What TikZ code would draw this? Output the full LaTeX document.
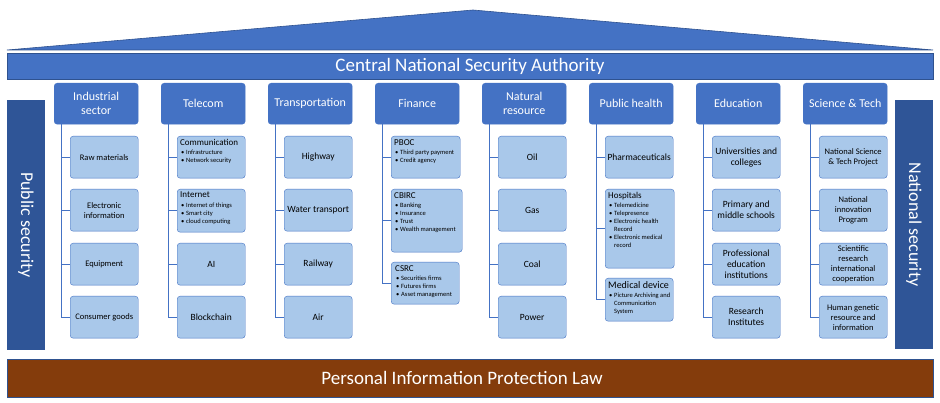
\documentclass[tikz,border=0pt]{standalone}
\usepackage{fontspec}
\setmainfont{Carlito}

\definecolor{roofblue}{HTML}{4472C4}
\definecolor{edgeblue}{HTML}{2F528F}
\definecolor{pillarblue}{HTML}{2F5597}
\definecolor{leafblue}{HTML}{A9C8EA}
\definecolor{lawbrown}{HTML}{843C0C}

\newcommand{\bitem}[1]{\par\hangindent=6pt\hangafter=1\noindent\hspace*{1pt}\makebox[5pt][l]{•}#1}
\newcommand{\boxtext}[4]{\parbox[c][#2pt][t]{#1pt}{\raggedright\fontsize{9}{10}\selectfont #3\par\vspace{1.5pt}\fontsize{6.5}{8}\selectfont #4}}

\tikzset{
	bar/.style={ draw=edgeblue, line width=0.6pt, text=white, inner sep=0pt },
	head/.style={ draw=roofblue, fill=roofblue, rounded corners=3pt, minimum width=84pt, minimum height=41pt,
		text=white, align=center, inner sep=1pt, anchor=north west, font=\fontsize{12}{14}\selectfont },
	leaf/.style={ draw=roofblue, fill=leafblue, rounded corners=3pt, minimum width=68pt, minimum height=42pt,
		align=center, inner sep=1pt, anchor=north west, font=\fontsize{8.5}{10}\selectfont },
	listleaf/.style={ leaf, inner sep=3pt, align=left },
	link/.style={ draw=roofblue, line width=0.8pt },
}

\begin{document}
\begin{tikzpicture}[ x=1pt, y=-1pt ]

	\useasboundingbox (0, 0) rectangle (940, 403);

	% roof and bars
	\draw[ fill=roofblue, draw=edgeblue, line width=0.6pt ] (7, 50) -- (473, 10) -- (933, 50) -- cycle;
	\node[ bar, fill=roofblue, minimum width=926pt, minimum height=26pt, font=\fontsize{19}{22}\selectfont ] (authority) at (470, 66) {Central National Security Authority};
	\node[ bar, fill=lawbrown, minimum width=926pt, minimum height=38pt, font=\fontsize{19}{22}\selectfont ] (law) at (470, 378) {Personal Information Protection Law\hspace*{16pt}};
	\node[ bar, fill=pillarblue, draw=none, minimum width=38pt, minimum height=250pt, font=\fontsize{18}{21}\selectfont ] (pubsec) at (26, 225) {\rotatebox{-90}{Public security}};
	\node[ bar, fill=pillarblue, draw=none, minimum width=38pt, minimum height=249pt, font=\fontsize{18}{21}\selectfont ] (natsec) at (914, 224.5) {\rotatebox{-90}{National security}};

	% headers
	\node[ head ] (ind) at (54, 83) {Industrial\\sector};
	\node[ head ] (tel) at (161, 83) {Telecom};
	\node[ head ] (tra) at (268, 83) {Transportation};
	\node[ head ] (fin) at (375, 83) {Finance};
	\node[ head ] (nat) at (482, 83) {Natural\\resource};
	\node[ head ] (pub) at (589, 83) {Public health};
	\node[ head ] (edu) at (696, 83) {Education};
	\node[ head ] (sci) at (803, 83) {Science \& Tech};

	% industrial sector
	\node[ leaf ] (ind1) at (70, 136) {Raw materials};
	\node[ leaf ] (ind2) at (70, 189) {Electronic\\information};
	\node[ leaf ] (ind3) at (70, 243) {Equipment};
	\node[ leaf ] (ind4) at (70, 296) {Consumer goods};

	% telecom
	\node[ listleaf ] (tel1) at (177, 136) {\boxtext{62}{36}{Communication}{\bitem{Infrastructure}\bitem{Network security}}};
	\node[ listleaf ] (tel2) at (177, 189) {\boxtext{62}{37}{Internet}{\bitem{Internet of things}\bitem{Smart city}\bitem{cloud computing}}};
	\node[ leaf, font=\fontsize{9.5}{11}\selectfont ] (tel3) at (177, 243) {AI};
	\node[ leaf, font=\fontsize{9.5}{11}\selectfont ] (tel4) at (177, 296) {Blockchain};

	% transportation
	\node[ leaf, font=\fontsize{9.5}{11}\selectfont ] (tra1) at (284, 136) {Highway};
	\node[ leaf, font=\fontsize{9.5}{11}\selectfont ] (tra2) at (284, 189) {Water transport};
	\node[ leaf, font=\fontsize{9.5}{11}\selectfont ] (tra3) at (284, 243) {Railway};
	\node[ leaf, font=\fontsize{9.5}{11}\selectfont ] (tra4) at (284, 296) {Air};

	% finance
	\node[ listleaf ] (fin1) at (391, 136) {\boxtext{63}{36}{PBOC}{\bitem{Third party payment}\bitem{Credit agency}}};
	\node[ listleaf ] (fin2) at (391, 189) {\boxtext{65}{57}{CBIRC}{\bitem{Banking}\bitem{Insurance}\bitem{Trust}\bitem{Wealth management}}};
	\node[ listleaf ] (fin3) at (391, 262) {\boxtext{60}{36}{CSRC}{\bitem{Securities firms}\bitem{Futures firms}\bitem{Asset management}}};

	% natural resource
	\node[ leaf, font=\fontsize{9.5}{11}\selectfont ] (nat1) at (498, 136) {Oil};
	\node[ leaf, font=\fontsize{9.5}{11}\selectfont ] (nat2) at (498, 189) {Gas};
	\node[ leaf, font=\fontsize{9.5}{11}\selectfont ] (nat3) at (498, 243) {Coal};
	\node[ leaf, font=\fontsize{9.5}{11}\selectfont ] (nat4) at (498, 296) {Power};

	% public health
	\node[ leaf, font=\fontsize{9.5}{11}\selectfont ] (pub1) at (605, 136) {Pharmaceuticals};
	\node[ listleaf ] (pub2) at (605, 189) {\boxtext{63}{73}{Hospitals}{\bitem{Telemedicine}\bitem{Telepresence}\bitem{Electronic health Record}\bitem{Electronic medical record}}};
	\node[ listleaf ] (pub3) at (605, 278) {\boxtext{62}{37}{\fontsize{10}{11}\selectfont Medical device}{\bitem{Picture Archiving and Communication System}}};

	% education
	\node[ leaf, font=\fontsize{9.5}{11}\selectfont ] (edu1) at (712, 136) {Universities and\\colleges};
	\node[ leaf, font=\fontsize{9.5}{11}\selectfont ] (edu2) at (712, 189) {Primary and\\middle schools};
	\node[ leaf, font=\fontsize{9.5}{11}\selectfont ] (edu3) at (712, 243) {Professional\\education\\institutions};
	\node[ leaf, font=\fontsize{9.5}{11}\selectfont ] (edu4) at (712, 296) {Research\\Institutes};

	% science and tech
	\node[ leaf ] (sci1) at (819, 136) {National Science\\\& Tech Project};
	\node[ leaf ] (sci2) at (819, 189) {National\\innovation\\Program};
	\node[ leaf ] (sci3) at (819, 243) {Scientific\\research\\international\\cooperation};
	\node[ leaf ] (sci4) at (819, 296) {Human genetic\\resource and\\information};

	% links
	\foreach \h in {ind, tel, tra, nat, edu, sci}
		\foreach \n in {1, 2, 3, 4}
			\draw[ link ] ([xshift=7pt]\h.south west) |- (\h\n.west);
	\foreach \h in {fin, pub}
		\foreach \n in {1, 2, 3}
			\draw[ link ] ([xshift=7pt]\h.south west) |- (\h\n.west);

\end{tikzpicture}
\end{document}
